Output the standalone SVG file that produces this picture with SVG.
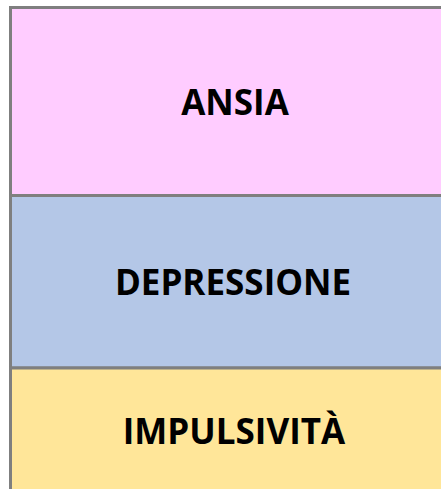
<svg xmlns="http://www.w3.org/2000/svg" width="441" height="489" viewBox="0 0 441 489">
<style>
.box{stroke:#7f7f7f;stroke-width:3}
.lbl{font-family:"Open Sans","Liberation Sans",sans-serif;font-weight:bold;font-size:35px;fill:#000;text-anchor:middle}
</style>
<rect width="441" height="489" fill="#ffffff"/>
<g id="ansia">
<rect class="box" x="10.5" y="7.5" width="440" height="188" fill="#ffccff"/>
<text class="lbl" x="235" y="115">ANSIA</text>
</g>
<g id="depressione">
<rect class="box" x="10.5" y="195.5" width="440" height="172.5" fill="#b4c7e7"/>
<text class="lbl" x="233" y="295">DEPRESSIONE</text>
</g>
<g id="impulsivita">
<rect class="box" x="10.5" y="368" width="440" height="140" fill="#ffe699"/>
<text class="lbl" x="234" y="444">IMPULSIVITÀ</text>
</g>
<g id="connectors"/>
</svg>
